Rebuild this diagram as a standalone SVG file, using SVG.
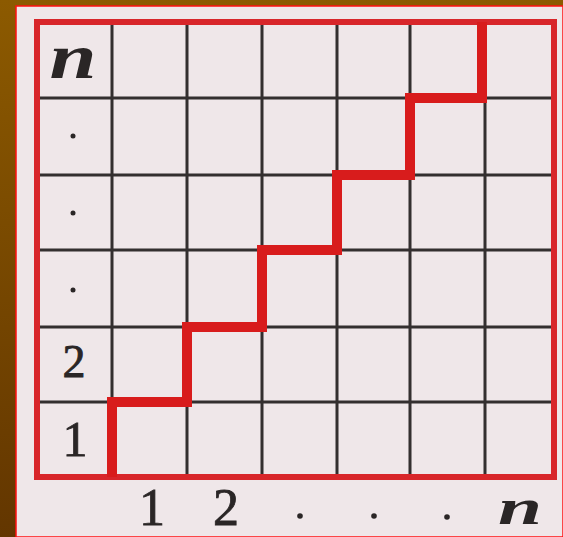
<svg xmlns="http://www.w3.org/2000/svg" width="563" height="537" viewBox="0 0 563 537">
<defs>
<linearGradient id="bg" x1="0" y1="0" x2="0" y2="1">
<stop offset="0" stop-color="#8c5a00"/>
<stop offset="1" stop-color="#633600"/>
</linearGradient>
<style>
.grid{stroke:#332f2f;stroke-width:3;fill:none}
.frame{stroke:#d8262a;stroke-width:6;fill:none}
.stair{stroke:#d81c1c;stroke-width:10;fill:none;stroke-linejoin:miter;stroke-linecap:butt}
.lbl{font-family:"Liberation Serif","Times New Roman",serif;fill:#2a2626;text-anchor:middle;stroke:#2a2626;stroke-width:0.8}
.it{font-style:italic;font-weight:bold;stroke-width:0}
</style>
</defs>
<rect width="563" height="537" fill="url(#bg)"/>
<rect x="16" y="6" width="547" height="531" fill="#efe7e9" stroke="#ff1010" stroke-width="1.5"/>
<g id="grid">
<path class="grid" d="M112 22V477M187 22V477M262 22V477M337 22V477M410 22V477M485 22V477M37 98H554M37 175H554M37 250H554M37 327H554M37 402H554"/>
<rect class="frame" x="37" y="22" width="517" height="455"/>
</g>
<g id="connectors">
<path class="stair" d="M112 477V402H187V327H262V250H337V175H410V98H482V22"/>
</g>
<g id="row-labels">
<text class="lbl it" x="73" y="78" font-size="64" textLength="47" lengthAdjust="spacingAndGlyphs">n</text>
<circle cx="73" cy="136" r="2.5" fill="#2a2626"/>
<circle cx="73" cy="213" r="2.5" fill="#2a2626"/>
<circle cx="73" cy="290" r="2.5" fill="#2a2626"/>
<text class="lbl" x="74" y="377" font-size="46">2</text>
<text class="lbl" x="75" y="456" font-size="50">1</text>
</g>
<g id="col-labels">
<text class="lbl" x="152" y="525" font-size="52">1</text>
<text class="lbl" x="226" y="525" font-size="52">2</text>
<circle cx="300" cy="516" r="2.8" fill="#2a2626"/>
<circle cx="374" cy="516" r="2.8" fill="#2a2626"/>
<circle cx="447" cy="517" r="2.8" fill="#2a2626"/>
<text class="lbl it" x="520" y="524" font-size="50" textLength="44" lengthAdjust="spacingAndGlyphs">n</text>
</g>
</svg>
